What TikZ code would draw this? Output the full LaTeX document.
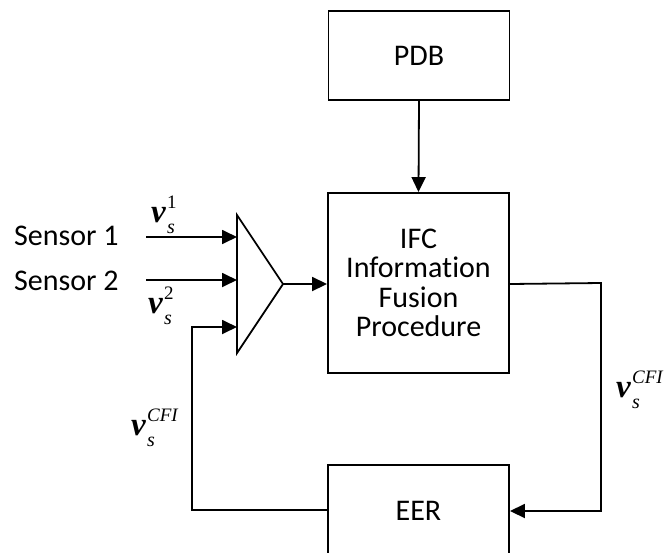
\documentclass[tikz,border=0pt]{standalone}
\usepackage{fontspec}
\setmainfont{Carlito}[Ligatures=NoCommon]
\newfontfamily\tms{Liberation Serif}
\usetikzlibrary{arrows.meta}
\newcommand\vlab[1]{{\tms\fontsize{33}{33}\selectfont\textbf{\textit{v}}\kern1pt\rlap{\raisebox{14pt}{\fontsize{19}{19}\selectfont #1}}\raisebox{-11pt}{\fontsize{20}{20}\selectfont\itshape s}}}
\begin{document}
\begin{tikzpicture}[x=1pt,y=-1pt,
  blk/.style={draw,line width=1.9pt,minimum width=181pt,inner sep=0pt,align=center,font=\fontsize{30}{29.5}\selectfont},
  ln/.style={line width=1.8pt},
  arr/.style={ln,-{Triangle[length=15pt,width=14pt]}},
  txt/.style={inner sep=0pt,font=\fontsize{30}{30}\selectfont},
  lab/.style={inner sep=0pt,anchor=base west}]
\useasboundingbox (0,0) rectangle (664,552);
% blocks
\node[blk,minimum height=89pt] (pdb) at (419,55.5) {PDB};
\node[blk,minimum height=180pt] (ifc) at (418.5,283) {IFC\\Information\\Fusion\\Procedure};
\node[blk,minimum height=92pt] (eer) at (418.5,511) {EER};
% combiner triangle
\coordinate (tA) at (237,215);
\coordinate (tB) at (237,353);
\coordinate (tC) at (283,284);
\draw[ln,line join=miter] (tA) -- (tC) -- (tB) -- cycle;
\coordinate (in1) at (237,237);
\coordinate (in2) at (237,280);
\coordinate (in3) at (237,327);
% sensors
\node[txt,anchor=base west] (sen1) at (14,245) {Sensor 1};
\node[txt,anchor=base west] (sen2) at (14,290) {Sensor 2};
\coordinate (s1) at (146,237);
\coordinate (s2) at (146,280);
\draw[arr] (s1) -- (in1);
\draw[arr] (s2) -- (in2);
% connectors
\draw[arr] (pdb.south) -- (ifc.north);
\draw[arr] (tC) -- (tC -| ifc.west);
\coordinate (rc) at (601,283);
\draw[arr] (tC -| ifc.east) -- (rc) |- (eer.east);
\coordinate (lc) at (192,510);
\draw[arr] (eer.west |- lc) -- (lc) |- (in3);
% labels
\node[lab] (v1) at (151,222) {\vlab{1}};
\node[lab] (v2) at (148,313) {\vlab{2}};
\node[lab] (vr) at (616,397) {\vlab{\itshape CFI}};
\node[lab] (vl) at (131,435) {\vlab{\itshape CFI}};
\end{tikzpicture}
\end{document}
